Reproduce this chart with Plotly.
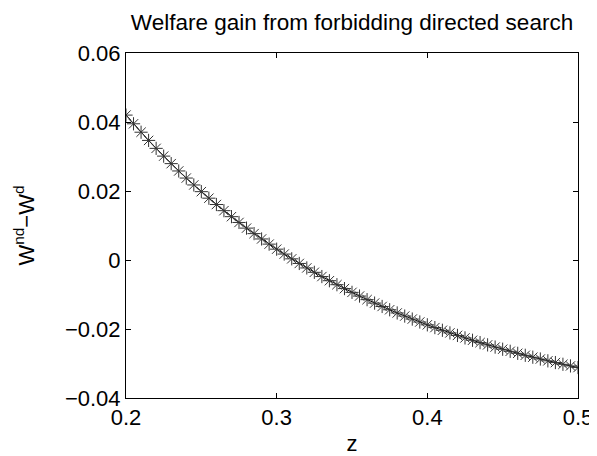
import plotly.graph_objects as go

z = [round(0.2 + 0.005 * i, 3) for i in range(61)]
gain = [0.04200, 0.03948, 0.03704, 0.03466, 0.03236, 0.03011, 0.02793, 0.02581,
        0.02375, 0.02175, 0.01981, 0.01792, 0.01608, 0.01430, 0.01256, 0.01088,
        0.00924, 0.00765, 0.00610, 0.00460, 0.00314, 0.00172, 0.00034, -0.00100,
        -0.00230, -0.00357, -0.00480, -0.00600, -0.00716, -0.00829, -0.00938,
        -0.01045, -0.01149, -0.01249, -0.01347, -0.01442, -0.01535, -0.01625,
        -0.01712, -0.01797, -0.01879, -0.01959, -0.02037, -0.02113, -0.02186,
        -0.02258, -0.02327, -0.02395, -0.02460, -0.02524, -0.02586, -0.02646,
        -0.02705, -0.02762, -0.02817, -0.02870, -0.02923, -0.02973, -0.03023,
        -0.03070, -0.03117]

x_ticks = [0.2, 0.3, 0.4, 0.5]
y_ticks = [-0.04, -0.02, 0, 0.02, 0.04, 0.06]
y_tick_text = ["\u22120.04", "\u22120.02", "0", "0.02", "0.04", "0.06"]

fig = go.Figure(go.Scatter(
    x=z, y=gain, mode="lines+markers",
    line=dict(color="black", width=1),
    marker=dict(symbol="asterisk-open", size=11, color="#333",
                line=dict(width=1, color="#333")),
))

font = dict(family="Liberation Sans, Arial, sans-serif", size=22, color="black")
axis_common = dict(showline=True, linecolor="black", linewidth=1, mirror="ticks",
                   ticks="inside", ticklen=5, tickcolor="black", showgrid=False,
                   zeroline=False, tickfont=font)

fig.update_layout(
    width=597, height=456,
    margin=dict(l=118, r=18, t=45, b=59),
    paper_bgcolor="white", plot_bgcolor="white",
    showlegend=False,
    font=font,
    title=dict(text="Welfare gain from forbidding directed search",
               x=0.5, xref="paper", xanchor="center",
               y=1, yref="container", yanchor="top", pad=dict(t=6),
               font=dict(family="Liberation Sans, Arial, sans-serif", size=22.5, color="black")),
    xaxis=dict(range=[0.2, 0.5], tickvals=x_ticks, ticktext=[str(v) for v in x_ticks],
               title=dict(text="z", font=font, standoff=6), **axis_common),
    yaxis=dict(range=[-0.04, 0.06], tickvals=y_ticks, ticktext=y_tick_text,
               title=dict(text="W<sup>nd</sup>\u2212W<sup>d</sup>", font=font, standoff=24),
               **axis_common),
)

fig.write_html("out.html")
